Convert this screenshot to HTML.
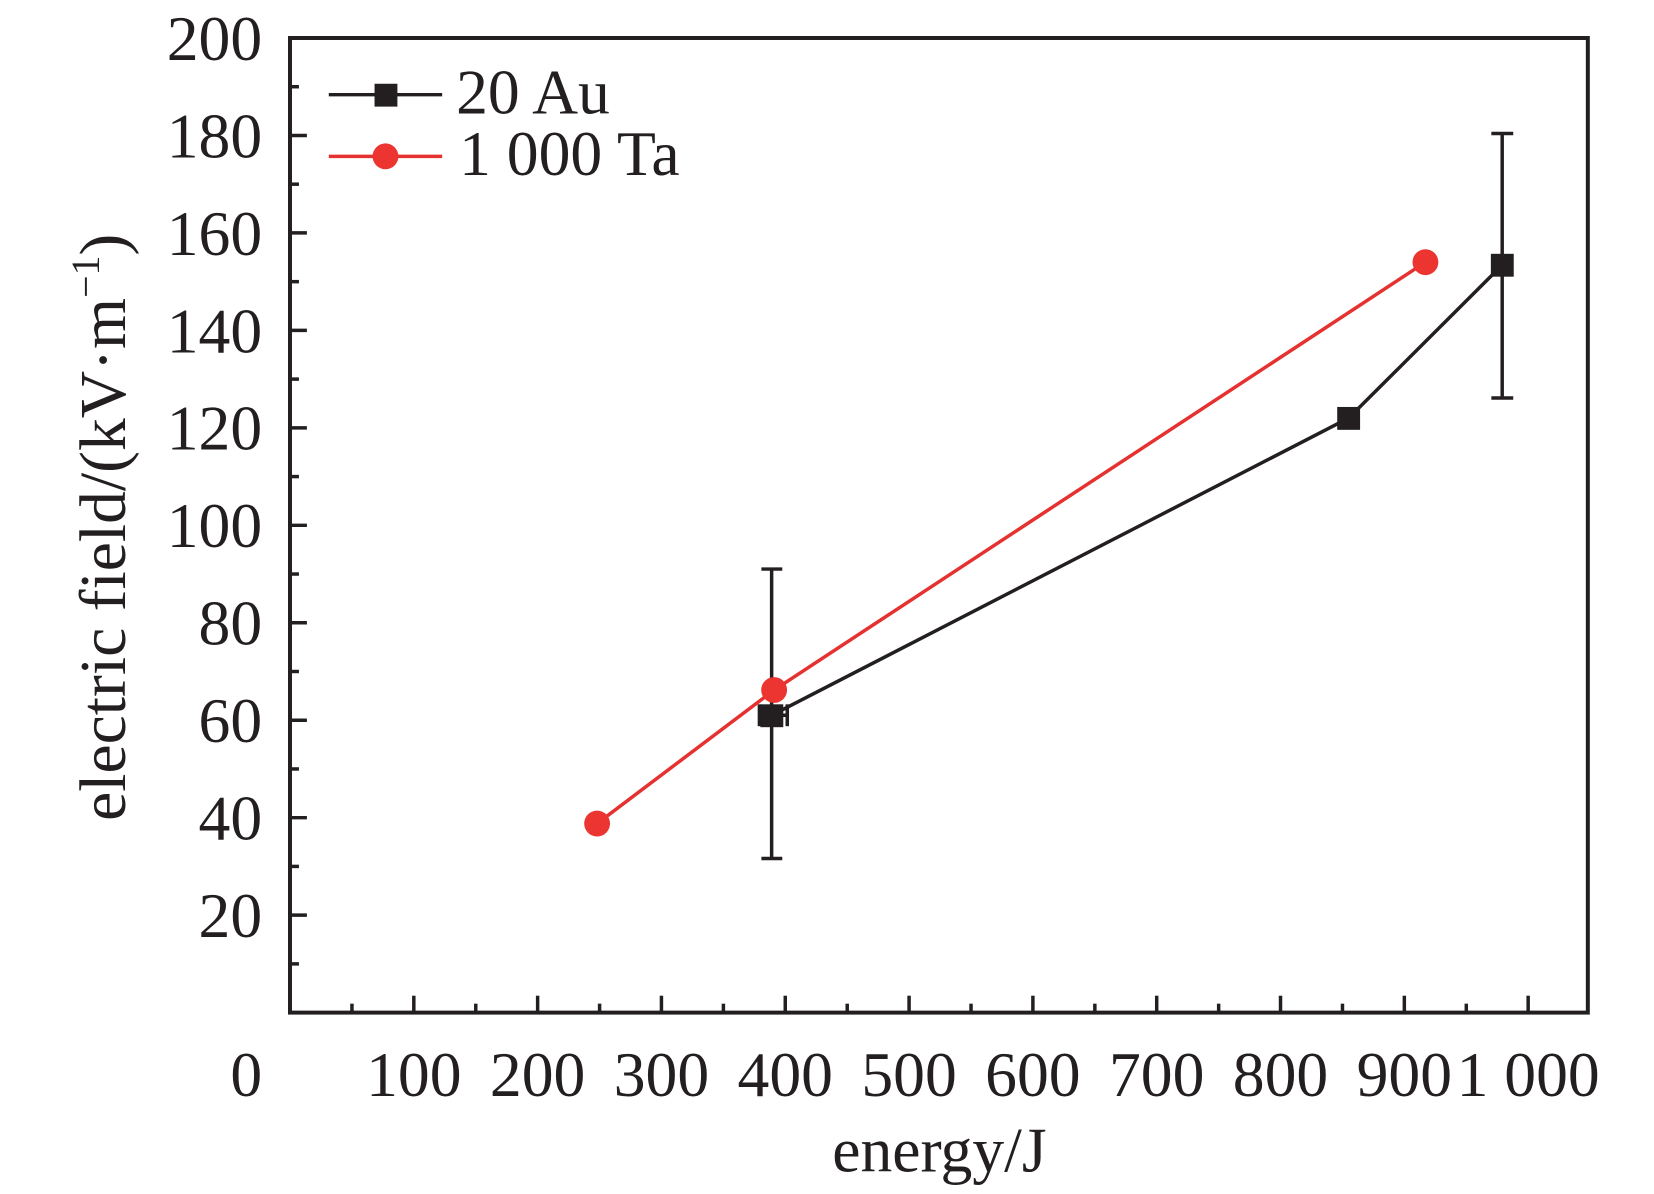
<!DOCTYPE html>
<html><head><meta charset="utf-8"><style>
html,body{margin:0;padding:0;background:#fff}
svg{display:block}
text{font-family:"Liberation Serif",serif;fill:#231f20}
</style></head><body>
<svg width="1654" height="1194" viewBox="0 0 1654 1194" xmlns="http://www.w3.org/2000/svg">
<g transform="translate(290,38) scale(0.9945) translate(-290,-38)">
<rect x="290" y="38" width="1305" height="980" fill="none" stroke="#231f20" stroke-width="4"/>
<g stroke="#231f20" stroke-width="3.5">
<line x1="352.3" y1="1018" x2="352.3" y2="1009"/>
<line x1="414.5" y1="1018" x2="414.5" y2="1001"/>
<line x1="476.8" y1="1018" x2="476.8" y2="1009"/>
<line x1="539" y1="1018" x2="539" y2="1001"/>
<line x1="601.3" y1="1018" x2="601.3" y2="1009"/>
<line x1="663.5" y1="1018" x2="663.5" y2="1001"/>
<line x1="725.8" y1="1018" x2="725.8" y2="1009"/>
<line x1="788" y1="1018" x2="788" y2="1001"/>
<line x1="850.3" y1="1018" x2="850.3" y2="1009"/>
<line x1="912.5" y1="1018" x2="912.5" y2="1001"/>
<line x1="974.8" y1="1018" x2="974.8" y2="1009"/>
<line x1="1037" y1="1018" x2="1037" y2="1001"/>
<line x1="1099.3" y1="1018" x2="1099.3" y2="1009"/>
<line x1="1161.5" y1="1018" x2="1161.5" y2="1001"/>
<line x1="1223.8" y1="1018" x2="1223.8" y2="1009"/>
<line x1="1286" y1="1018" x2="1286" y2="1001"/>
<line x1="1348.3" y1="1018" x2="1348.3" y2="1009"/>
<line x1="1410.5" y1="1018" x2="1410.5" y2="1001"/>
<line x1="1472.8" y1="1018" x2="1472.8" y2="1009"/>
<line x1="1535" y1="1018" x2="1535" y2="1001"/>
<line x1="290" y1="969" x2="299" y2="969"/>
<line x1="290" y1="920" x2="307" y2="920"/>
<line x1="290" y1="871" x2="299" y2="871"/>
<line x1="290" y1="822" x2="307" y2="822"/>
<line x1="290" y1="773" x2="299" y2="773"/>
<line x1="290" y1="724" x2="307" y2="724"/>
<line x1="290" y1="675" x2="299" y2="675"/>
<line x1="290" y1="626" x2="307" y2="626"/>
<line x1="290" y1="577" x2="299" y2="577"/>
<line x1="290" y1="528" x2="307" y2="528"/>
<line x1="290" y1="479" x2="299" y2="479"/>
<line x1="290" y1="430" x2="307" y2="430"/>
<line x1="290" y1="381" x2="299" y2="381"/>
<line x1="290" y1="332" x2="307" y2="332"/>
<line x1="290" y1="283" x2="299" y2="283"/>
<line x1="290" y1="234" x2="307" y2="234"/>
<line x1="290" y1="185" x2="299" y2="185"/>
<line x1="290" y1="136" x2="307" y2="136"/>
<line x1="290" y1="87" x2="299" y2="87"/>
</g>
<g font-size="64" text-anchor="end">
<text x="262" y="60">200</text>
<text x="262" y="158">180</text>
<text x="262" y="256">160</text>
<text x="262" y="354">140</text>
<text x="262" y="452">120</text>
<text x="262" y="550">100</text>
<text x="262" y="648">80</text>
<text x="262" y="746">60</text>
<text x="262" y="844">40</text>
<text x="262" y="942">20</text>
</g>
<g font-size="64" text-anchor="middle">
<text x="246" y="1102">0</text>
<text x="414.5" y="1102">100</text>
<text x="539" y="1102">200</text>
<text x="663.5" y="1102">300</text>
<text x="788" y="1102">400</text>
<text x="912.5" y="1102">500</text>
<text x="1037" y="1102">600</text>
<text x="1161.5" y="1102">700</text>
<text x="1286" y="1102">800</text>
<text x="1410.5" y="1102">900</text>
<text x="1535" y="1102">1 000</text>
</g>
<text x="943" y="1178" font-size="64" text-anchor="middle">energy/J</text>
<text transform="translate(124,530) rotate(-90)" font-size="66" text-anchor="middle">electric field/(kV·m<tspan font-size="40" dy="-26">−1</tspan><tspan dy="26">)</tspan></text>
<g stroke="#231f20" stroke-width="3.5" fill="none">
<polyline points="774.3,719.1 1354.5,420.2 1508.9,266.3"/>
<line x1="774.3" y1="572" x2="774.3" y2="863"/>
<line x1="764" y1="572" x2="785" y2="572"/>
<line x1="764" y1="863" x2="785" y2="863"/>
<line x1="762" y1="719" x2="790" y2="719"/>
<line x1="762" y1="708" x2="762" y2="730"/>
<line x1="790" y1="708" x2="790" y2="730"/>
<line x1="1508.9" y1="134" x2="1508.9" y2="400"/>
<line x1="1498" y1="134" x2="1520" y2="134"/>
<line x1="1498" y1="400" x2="1520" y2="400"/>
</g>
<g fill="#231f20">
<rect x="763" y="708" width="23" height="23"/>
<rect x="1343" y="409" width="23" height="23"/>
<rect x="1497.5" y="255" width="23" height="23"/>
</g>
<polyline points="598.8,827.9 776.8,693.6 1431.7,263.4" fill="none" stroke="#e5312f" stroke-width="3.5"/>
<g fill="#ec3431">
<circle cx="598.8" cy="827.9" r="13"/>
<circle cx="776.8" cy="693.6" r="13"/>
<circle cx="1431.7" cy="263.4" r="13"/>
</g>
<line x1="329" y1="95" x2="443" y2="95" stroke="#231f20" stroke-width="3.5"/>
<rect x="375" y="84" width="23" height="23" fill="#231f20"/>
<text x="457" y="114" font-size="64">20 Au</text>
<line x1="329" y1="157" x2="443" y2="157" stroke="#e5312f" stroke-width="3.5"/>
<circle cx="386" cy="157" r="13" fill="#ec3431"/>
<text x="460" y="176" font-size="64">1 000 Ta</text>
</g>
</svg>
</body></html>
